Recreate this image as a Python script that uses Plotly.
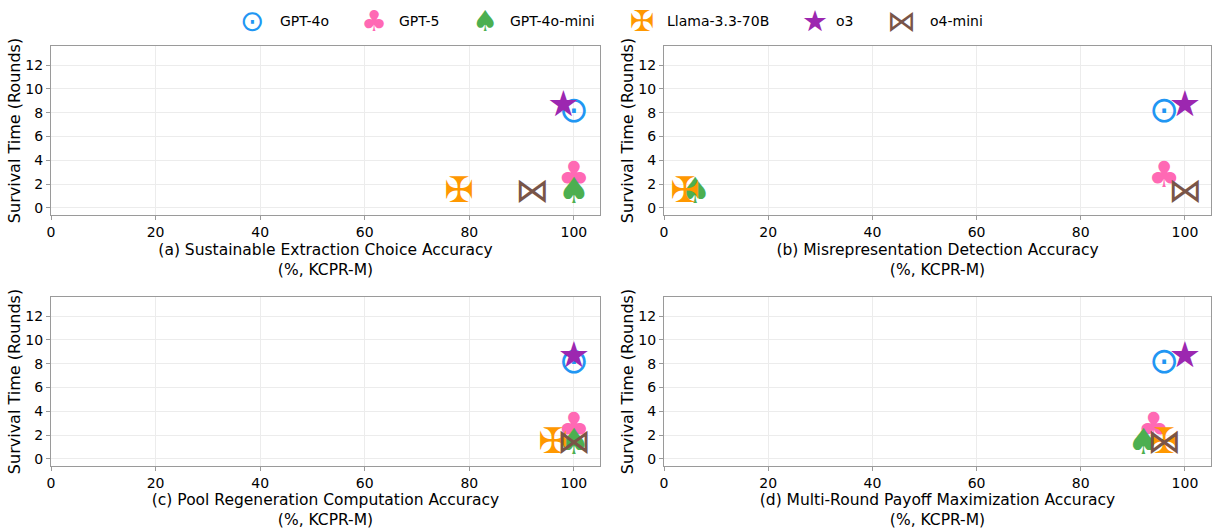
import plotly.graph_objects as go

models = ["GPT-4o", "GPT-5", "GPT-4o-mini", "Llama-3.3-70B", "o3", "o4-mini"]
glyphs = ["\u2299", "\u2663", "\u2660", "\u2720", "\u2605", "\u22C8"]
colors = ["#2196F3", "#FF69B4", "#4CAF50", "#FF9800", "#9C27B0", "#795548"]

survival = [8.0, 2.5, 1.2, 1.2, 8.5, 1.2]
acc_extraction = [100, 100, 100, 78, 98, 92]
acc_misrep = [96, 96, 6, 4, 100, 100]
acc_regen = [100, 100, 100, 96, 100, 100]
acc_payoff = [96, 94, 92, 96, 100, 96]

panel_titles = [
    "(a) Sustainable Extraction Choice Accuracy<br>(%, KCPR-M)",
    "(b) Misrepresentation Detection Accuracy<br>(%, KCPR-M)",
    "(c) Pool Regeneration Computation Accuracy<br>(%, KCPR-M)",
    "(d) Multi-Round Payoff Maximization Accuracy<br>(%, KCPR-M)",
]
panel_acc = [acc_extraction, acc_misrep, acc_regen, acc_payoff]

W, H = 1213, 529
FONT = "DejaVu Sans"
glyph_sizes = [36, 36, 36, 35, 36, 34]

# panel boxes in pixels: (left, right, top, bottom)
boxes = [(51, 600, 46, 215), (664, 1211, 46, 215), (51, 600, 297, 466), (664, 1211, 297, 466)]

fig = go.Figure()
layout = {}
for p, (l, r, t, b) in enumerate(boxes):
    idx = "" if p == 0 else str(p + 1)
    xa, ya = "x" + idx, "y" + idx
    for m in range(len(models)):
        fig.add_trace(go.Scatter(
            x=[panel_acc[p][m]], y=[survival[m]], mode="text",
            text=[glyphs[m]], textposition="middle center",
            textfont=dict(size=glyph_sizes[m], color=colors[m], family=FONT),
            xaxis=xa, yaxis=ya, showlegend=False, name=models[m],
            cliponaxis=False,
        ))
    common = dict(showline=True, mirror=True, linecolor="#9a9a9a", linewidth=1.2,
                  showgrid=True, gridcolor="#ececec", gridwidth=1, zeroline=False,
                  ticks="outside", ticklen=4, tickcolor="#9a9a9a", automargin=False,
                  tickfont=dict(family=FONT, size=14, color="#000"))
    layout["xaxis" + idx] = dict(
        domain=[l / W, r / W], anchor=ya, range=[0, 105],
        tickvals=[0, 20, 40, 60, 80, 100],
        title=dict(text=panel_titles[p], font=dict(family=FONT, size=15.5, color="#000"), standoff=5),
        **common)
    layout["yaxis" + idx] = dict(
        domain=[1 - b / H, 1 - t / H], anchor=xa, range=[-0.6, 13.6],
        tickvals=[0, 2, 4, 6, 8, 10, 12],
        title=dict(text="Survival Time (Rounds)", font=dict(family=FONT, size=16, color="#000"), standoff=0),
        **common)

# legend built from annotations
leg_glyph_x = [252, 374, 485, 642, 815, 901]
leg_text_x = [278, 397, 508, 665, 834, 928]
annotations = []
for m in range(len(models)):
    annotations.append(dict(x=leg_glyph_x[m] / W, y=1 - 21 / H, xref="paper", yref="paper",
                            text=glyphs[m], showarrow=False, xanchor="center", yanchor="middle",
                            font=dict(family=FONT, size=29, color=colors[m])))
    annotations.append(dict(x=leg_text_x[m] / W, y=1 - 21 / H, xref="paper", yref="paper",
                            text=models[m], showarrow=False, xanchor="left", yanchor="middle",
                            font=dict(family=FONT, size=14, color="#000")))

fig.update_layout(
    width=W, height=H, margin=dict(l=0, r=0, t=0, b=0),
    plot_bgcolor="white", paper_bgcolor="white",
    font=dict(family=FONT, size=14, color="#000"),
    annotations=annotations, showlegend=False,
    **layout,
)
fig.write_html("out.html", config={"displayModeBar": False},
               post_script="document.body.style.margin='0';document.body.style.overflow='hidden';")
